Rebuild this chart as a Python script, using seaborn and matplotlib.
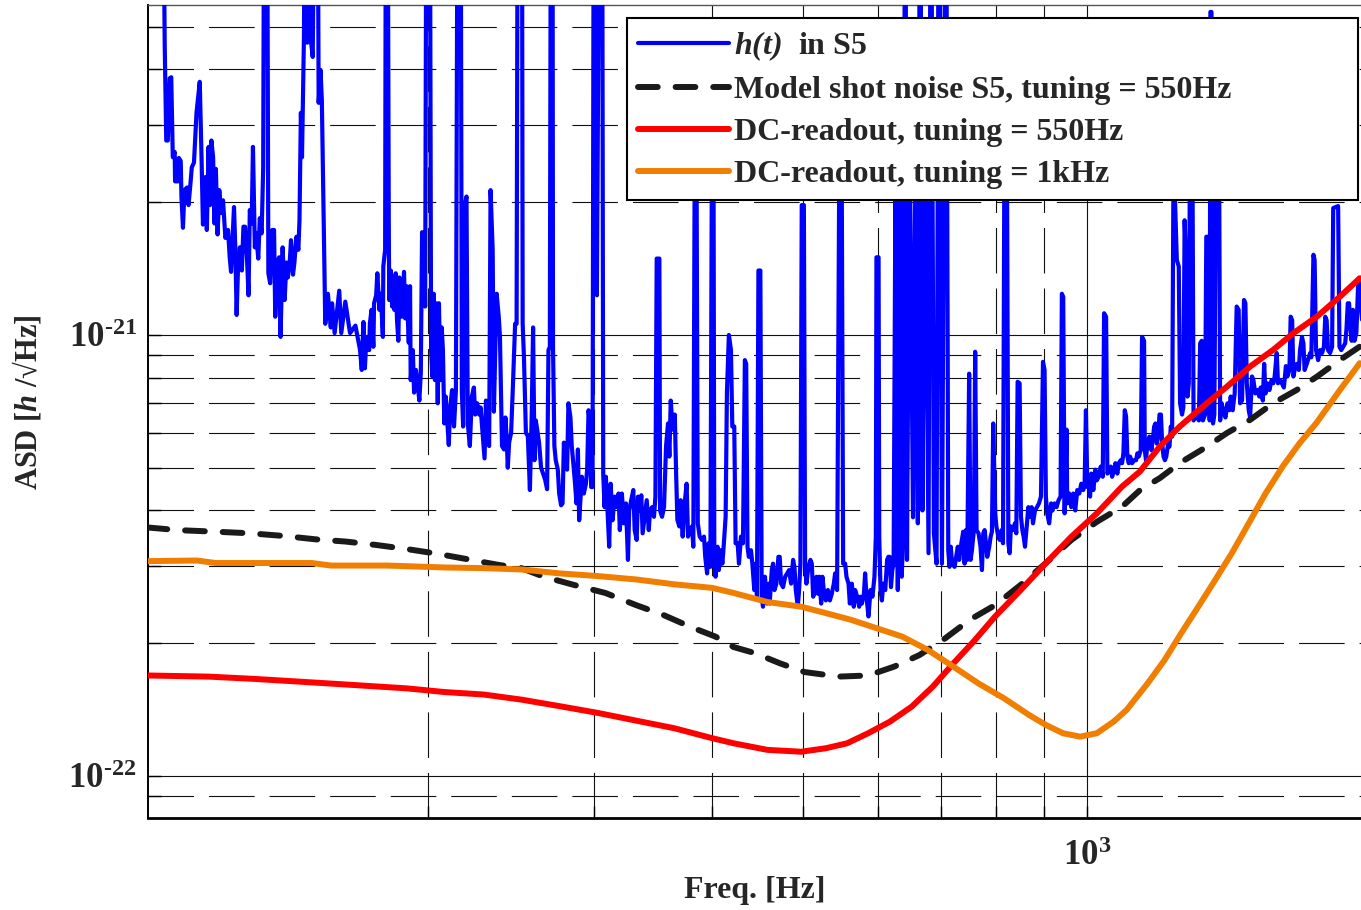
import matplotlib
matplotlib.use("Agg")
import matplotlib.pyplot as plt
from matplotlib.ticker import FixedLocator, FixedFormatter, NullFormatter
import numpy as np
import pandas as pd
import seaborn as sns

# All ASD values are given in units of 1e-22 / sqrt(Hz)
UNIT = 1e-22

# ---- h(t) in S5 (measured strain amplitude spectral density) ----
ht_freq = [
    104.6, 105.2, 105.6, 106.0, 106.5, 106.9, 107.3, 107.8, 107.9, 108.7, 108.9, 109.4, 109.6, 110.0,
    110.4, 111.1, 111.5, 112.0, 112.4, 113.0, 113.7, 114.6, 115.1, 115.5, 116.2, 116.6, 117.1, 117.5,
    117.9, 118.4, 118.8, 119.2, 119.7, 120.2, 120.7, 121.3, 122.0, 122.8, 123.3, 123.7, 124.6, 125.0,
    125.4, 125.8, 126.4, 127.0, 127.5, 128.0, 128.6, 129.1, 129.5, 130.1, 130.5, 131.1, 131.5, 132.2,
    132.7, 133.3, 133.8, 134.2, 135.0, 135.5, 136.1, 136.8, 137.4, 137.8, 138.5, 139.1, 139.6, 140.3,
    141.0, 141.6, 142.1, 142.8, 143.2, 143.9, 144.4, 145.1, 145.8, 146.2, 146.7, 147.1, 147.8, 148.3,
    149.0, 149.6, 150.3, 151.0, 152.0, 152.7, 153.2, 153.9, 154.4, 155.1, 155.7, 156.7, 157.8, 158.3,
    159.3, 161.1, 161.9, 163.5, 165.4, 167.6,
    169.5, 170.2, 170.9, 171.5, 172.2, 173.3, 173.6, 174.3, 175.1, 175.4, 176.3, 176.8, 177.7, 178.3,
    179.2, 179.4, 180.2, 180.6, 181.2, 181.8, 182.0, 182.7, 183.3, 183.8, 184.3, 184.9, 185.5, 186.1,
    186.6, 187.7, 188.7, 189.3, 189.9, 190.9, 191.5, 191.8, 192.8, 193.4, 194.3, 195.0, 195.9, 196.6,
    197.2, 198.1, 198.7, 199.4, 200.9, 201.6, 202.2, 202.9, 203.5, 204.2, 204.9, 205.5, 206.2, 206.9,
    207.5, 208.2, 208.9, 209.6, 210.5, 211.2, 212.2, 213.2, 214.2, 215.2, 216.6, 217.3, 218.0, 218.7,
    219.8, 220.5, 221.6, 222.7, 223.8, 224.5, 225.6, 226.7, 227.5, 228.6, 229.7, 230.5, 231.6, 232.3,
    233.1, 234.3, 235.0, 235.8, 236.6, 237.8, 238.5, 239.7, 240.9, 241.7, 242.5, 243.1, 243.9, 245.1,
    246.3, 247.5, 248.4, 249.2, 251.6, 252.1, 252.9, 254.1, 255.3, 256.6, 257.8, 258.6, 259.5, 260.3,
    261.2, 262.4, 263.7, 265.0, 266.3, 267.6, 268.5, 269.4, 270.2, 271.1, 271.5, 272.4, 273.3, 274.7,
    275.6, 276.9, 277.9, 278.8, 280.1, 281.0, 281.9, 283.3, 284.2, 285.1, 286.5, 287.5, 288.5, 289.4,
    291.3, 292.7, 294.2, 295.1, 296.1, 297.1, 298.0, 299.0, 300.0, 302.2, 304.4, 306.0, 306.9, 307.9,
    308.9, 309.9, 311.4, 312.5, 314.0, 315.5, 317.0, 318.6, 319.6, 321.2, 322.8, 324.4, 326.0, 327.0,
    328.6, 330.3, 331.4, 333.0, 334.1, 335.7, 336.8, 337.9, 339.6, 341.3, 343.0, 344.1, 345.8, 347.4,
    348.6, 349.7, 352.0, 352.6, 354.3, 356.0, 357.8, 359.5, 360.7, 361.9, 363.7, 365.5, 366.6, 367.8,
    369.6, 370.8, 372.6, 374.4, 376.2, 377.5, 379.3, 381.2, 382.4, 383.6, 385.5, 386.6, 388.4, 390.5,
    392.5, 393.7, 395.5, 396.9, 398.7, 400.0, 401.8, 402.5, 403.7, 405.7, 407.0, 409.0, 410.5, 411.8,
    413.8, 415.1, 417.1, 419.2, 420.6, 422.6, 424.0, 426.1, 427.5, 429.6, 431.7, 433.7, 435.1, 436.5,
    437.9, 440.2, 441.7, 443.8, 445.3, 446.7, 448.3, 450.4, 451.9, 453.3, 455.5, 457.7, 460.0,
    460.8, 463.1, 464.6, 466.2, 468.4, 470.7, 472.2, 473.8, 476.1, 478.5, 480.9, 483.1, 485.5, 487.9,
    489.5, 491.1, 493.5, 495.1, 496.7, 498.3, 500.9, 502.4, 504.0, 506.5, 509.0, 510.7, 512.4, 515.0,
    516.6, 518.3, 520.0, 522.5, 524.1, 526.7, 528.5, 531.1, 533.7, 536.2, 538.9, 540.6, 543.2, 545.9,
    549.5, 551.3, 554.0, 555.8, 558.6, 560.4, 563.1, 565.8, 567.7, 570.5, 573.3, 575.2, 577.1, 580.0,
    581.7, 583.6, 586.5, 589.4, 592.2, 595.1, 597.1, 598.0, 601.1, 602.1, 604.0, 606.0, 608.0, 611.0,
    613.8, 615.6, 617.6, 619.6, 621.6, 623.6,
    626.6, 630.0, 632.9, 636.0, 638.0, 641.7, 644.3, 648.5, 653.8, 657.7, 661.6, 665.3, 669.1, 673.4,
    679.1, 683.0, 688.0, 692.5, 696.6, 701.7, 708.6, 712.6, 714.7, 717.0, 719.4, 723.7, 729.4,
    731.9, 735.7, 739.1, 741.6, 744.0, 746.4, 749.9, 752.5, 755.0, 758.6, 761.0, 763.6, 767.3, 771.0,
    773.7, 776.2, 778.8, 781.3, 783.8, 787.6, 790.3, 792.8, 795.3, 799.2, 801.4, 805.3, 807.9, 811.8,
    814.5, 817.2, 822.4, 825.2, 827.8, 830.4, 834.5, 838.6, 841.4, 844.1, 848.2, 851.0, 853.9, 856.6,
    859.4, 862.3, 866.5, 869.3, 873.5, 876.4, 880.6, 884.9, 889.2, 893.6, 898.0, 901.5, 904.4, 907.3,
    911.7, 916.1, 919.2, 923.8, 928.3, 932.8, 937.4, 940.4, 943.5, 946.7, 951.3, 952.7, 957.4, 962.2,
    966.9, 971.6, 976.4, 981.2, 986.0, 990.8, 994.1, 997.3, 1000.7, 1004.2, 1007.4, 1010.6, 1015.5,
    1020.5, 1024.0, 1029.0, 1034.1, 1039.1, 1042.5, 1047.6, 1050.9, 1056.0, 1059.6, 1063.1, 1068.3,
    1071.7, 1076.8, 1080.5, 1085.8, 1089.3, 1092.8, 1096.5, 1100.0, 1103.4, 1107.2, 1110.8, 1116.2,
    1121.6, 1127.1, 1130.7, 1134.6, 1140.1, 1143.8, 1149.4,
    1151.4, 1154.8, 1158.7, 1164.4, 1170.1, 1174.1, 1178.0, 1181.8, 1185.9, 1189.7, 1193.5, 1197.6,
    1201.4, 1205.3, 1209.4, 1213.4, 1218.8, 1222.8, 1227.0, 1230.8, 1234.6, 1239.0, 1245.0, 1251.0,
    1255.0, 1261.0, 1265.0, 1269.0, 1274.0, 1278.0, 1282.0, 1286.0, 1293.0, 1297.0, 1301.6, 1308.0,
    1314.0, 1318.0, 1323.0, 1327.0, 1334.0, 1338.0, 1345.0, 1349.0, 1351.4, 1355.0, 1360.0, 1364.5,
    1371.0, 1380.0, 1384.0, 1389.0, 1395.0, 1402.0, 1409.0, 1415.0, 1420.0, 1427.0, 1434.0, 1441.0,
    1448.0, 1453.0, 1460.0, 1467.0, 1472.0, 1477.0, 1484.0, 1489.0, 1496.0, 1501.0, 1508.0, 1516.0,
    1523.0, 1528.0, 1536.0, 1541.0, 1546.0, 1553.0, 1561.0, 1569.0, 1576.0, 1581.0, 1589.0, 1594.0,
    1602.0, 1609.0, 1617.0, 1625.0, 1631.0, 1639.0, 1644.0, 1650.0, 1655.0, 1663.0, 1669.0, 1677.0,
    1682.0, 1690.0, 1696.0, 1701.0, 1710.0, 1715.0, 1724.0, 1729.0, 1738.0, 1743.0, 1749.0, 1758.0,
    1766.0, 1775.0, 1783.0, 1789.0, 1795.0, 1801.0, 1810.0, 1819.0, 1824.0, 1846.0, 1852.0, 1860.0,
    1869.0, 1878.0, 1884.0, 1890.0, 1896.0, 1903.0, 1908.0, 1914.0, 1921.0, 1930.0, 1939.0, 1945.0,
    1957.0,
]
ht_asd = [
    200, 46, 27.6, 27.6, 38.2, 38.4, 25.3, 26.0, 22.3, 22.3, 25.2, 24.8, 20.5, 17.5,
    21.3, 21.6, 19.7, 21.9, 24.0, 24.6, 31.9, 37.5, 25.3, 17.8, 22.8, 17.3, 26.7, 19.7,
    27.6, 25.3, 17.9, 23.8, 16.9, 21.3, 18.9, 20.2, 16.6, 17.3, 15.0, 13.9, 19.5, 15.7,
    11.1, 14.0, 15.8, 14.0, 17.6, 17.6, 15.0, 12.3, 19.2, 17.9, 26.7, 15.8, 17.0, 14.9,
    18.4, 17.0, 24.0, 200, 200, 13.8, 13.1, 17.3, 17.3, 11.0, 14.6, 15.0, 9.9, 15.8,
    12.0, 14.6, 13.5, 14.8, 16.4, 13.7, 14.6, 16.7, 15.6, 18.2, 31.9, 25.3, 47.4, 200,
    46, 200, 46.7, 42.7, 200, 200, 33.6, 39.9, 34.1, 18.5, 10.6, 12.4, 10.4, 11.8,
    10.1, 12.6, 10.1, 11.9, 10.1, 10.5,
    9.24, 8.33, 10.7, 8.4, 9.9, 9.24, 10.6, 11.4, 9.4, 11.8, 12.3, 13.8, 11.4, 12.4,
    9.9, 14.3, 15.6, 200, 200, 18.6, 12.0, 14.0, 11.6, 13.5, 11.4, 13.8, 10.8, 9.7,
    13.5, 11.0, 13.9, 10.9, 12.9, 9.6, 12.9, 7.9, 9.24, 7.4, 8.33, 7.8, 7.1, 8.2,
    17.1, 17.0, 11.6, 200, 200, 9.24, 8.05, 12.4, 7.9, 11.8, 7.0, 11.8, 7.9, 10.4,
    9.24, 6.3, 7.25, 6.5, 5.63, 6.85, 7.5, 6.2, 7.5, 200, 200, 7.5, 6.2, 19.5,
    20.6, 6.3, 5.6, 7.25, 7.6, 6.6, 7.0, 6.6, 6.85, 6.0, 5.25, 7.1, 5.7, 5.6,
    21.3, 15.6, 6.7, 9.24, 12.4, 11.0, 9.9, 5.6, 5.5, 6.5, 5.8, 5.0, 5.7, 6.0,
    7.9, 10.6, 10.6, 200, 200, 10.6, 8.9, 6.0, 5.9, 4.45, 6.75, 10.4, 5.2, 6.4,
    6.1, 5.7, 5.0, 4.85, 4.7, 4.47, 9.24, 9.4, 200, 200, 9.4, 5.6, 5.2, 4.95,
    4.37, 4.11, 4.15, 5.7, 5.1, 4.95, 7.0, 6.5, 5.6, 5.2, 4.6, 4.15, 5.5, 3.8,
    4.77, 4.37, 4.6, 4.95, 6.75, 6.3, 4.52, 4.52, 200, 12.3, 200, 200, 4.85, 4.07,
    4.77, 4.15, 3.31, 4.6, 3.8, 4.3, 4.07, 4.37, 3.61, 4.37, 3.74, 4.15, 3.09, 4.0,
    4.22, 4.45, 3.61, 3.43, 4.3, 4.0, 4.33, 3.55, 3.87, 4.22, 3.61, 4.0, 4.07, 3.87,
    4.3, 14.9, 14.9, 4.0, 3.87, 4.07, 5.6, 6.3, 5.3, 7.1, 6.1, 6.6, 4.95, 3.81,
    3.68, 4.22, 3.49, 4.15, 4.6, 3.49, 3.61, 3.68, 3.31, 21.3, 21.3, 3.74, 3.49, 3.43,
    3.49, 3.14, 2.88, 3.37, 2.98, 20.8, 20.8, 3.25, 2.83, 3.31, 2.93, 3.25, 3.03, 3.31,
    3.87, 7.4, 10.0, 9.24, 6.2, 6.2, 3.37, 3.37, 3.03, 3.49, 3.37, 8.77, 8.6, 3.31,
    3.14, 3.25, 3.03, 2.64, 3.03, 2.55, 14.0, 14.0, 2.55, 2.42, 2.83, 2.46, 2.73,
    2.46, 2.93, 3.03, 2.64, 2.73, 3.14, 3.14, 2.73, 2.68, 2.83, 2.88, 2.93, 2.73, 3.09,
    2.98, 2.64, 2.42, 2.64, 3.03, 19.7, 19.7, 3.03, 2.73, 2.98, 3.09, 3.03, 2.55, 2.64,
    2.83, 2.59, 2.83, 2.46, 2.83, 2.55, 2.5, 2.64, 2.5, 2.59, 2.73, 2.88, 2.64, 20.8,
    20.8, 3.03, 3.03, 2.83, 2.73, 2.46, 2.73, 2.42, 2.64, 2.55, 2.42, 2.55, 2.46, 2.59,
    2.88, 2.55, 2.3, 2.64, 2.55, 2.83, 3.49, 15.0, 15.0, 3.49, 2.64, 2.5, 2.73, 2.64,
    3.09, 3.14, 3.14, 2.68, 2.93, 3.03,
    25, 2.64, 25, 2.83, 3.37, 200, 3.09, 30, 3.86, 25, 3.74, 200, 4.0, 30,
    3.2, 200, 3.55, 3.03, 200, 3.03, 200, 3.25, 2.98, 3.31, 3.03, 2.98, 3.31,
    3.09, 3.37, 3.58, 3.03, 3.61, 3.09, 8.17, 3.09, 3.25, 3.61, 9.16, 3.61, 3.55, 3.31,
    2.93, 3.55, 3.61, 3.37, 3.14, 3.31, 3.49, 3.58, 6.3, 3.94, 3.68, 3.49, 3.43, 3.61,
    3.37, 25, 25, 3.37, 3.2, 3.68, 3.61, 3.74, 3.55, 7.83, 7.77, 3.87, 3.61, 3.49,
    3.31, 3.61, 4.07, 3.87, 4.07, 3.74, 4.0, 4.07, 4.15, 4.3, 8.69, 8.33, 4.3, 3.94,
    3.74, 4.15, 4.0, 4.15, 4.07, 4.22, 4.3, 12.4, 12.2, 3.94, 6.1, 4.15, 4.37, 4.07,
    4.37, 4.0, 4.45, 4.37, 4.6, 4.45, 4.6, 6.75, 4.52, 4.68, 4.3, 4.85, 4.45,
    4.95, 4.68, 4.77, 5.03, 4.77, 11.2, 11.0, 4.85, 4.95, 5.03, 4.77, 4.95,
    5.12, 4.85, 5.12, 5.2, 5.12, 5.39, 6.75, 6.54, 5.3, 5.12, 5.3, 5.12,
    5.2, 5.2, 5.39, 5.3, 5.48, 9.9, 9.7,
    5.48, 5.2, 5.67, 5.88, 5.48, 5.78, 6.2, 6.3, 5.67, 5.88, 6.6, 6.6,
    5.67, 5.3, 5.2, 5.3, 5.67, 5.58, 6.2, 5.88, 21, 21, 14.8, 14.3,
    7.0, 6.6, 6.85, 18.2, 14.3, 7.25, 7.77, 30, 30, 6.4, 6.6, 6.5,
    6.4, 9.57, 9.7, 6.4, 6.6, 16.7, 16.7, 6.4, 54, 54, 6.3, 6.6,
    30, 30, 6.4, 7.0, 6.75, 6.5, 7.0, 6.75, 7.25, 6.75, 7.37, 11.6,
    11.4, 7.0, 7.1, 12.0, 11.8, 7.77, 6.75, 6.5, 8.05, 7.9, 7.37, 7.5,
    7.25, 7.6, 7.1, 8.6, 7.37, 7.77, 7.5, 7.9, 7.77, 8.05, 9.1, 7.77,
    7.9, 7.77, 7.6, 8.5, 8.05, 8.33, 11.0, 10.8, 8.05, 8.5, 8.6, 8.33,
    9.24, 9.9, 9.57, 8.33, 8.6, 8.77, 9.1, 8.9, 15.2, 14.8, 9.24, 8.77,
    9.24, 9.1, 9.4, 11.0, 10.8, 9.24, 9.1, 9.4, 19.4, 19.6, 9.4, 9.24,
    9.4, 9.57, 10.3, 11.8, 11.8, 10.3, 9.7, 11.4, 9.7, 10.1, 13.3, 12.6,
    10.8,
]

# ---- Model shot noise S5, tuning = 550 Hz ----
model_freq = [100.9, 108.6, 119.2, 129.7, 141.0, 152.1, 163.8, 176.4, 190.0, 204.8, 220.5, 237.7,
              251.3, 265.5, 286.0, 308.5, 332.6, 355.1, 379.4, 403.7, 422.1, 444.2, 472.7, 502.1,
              545.5, 586.0, 624.5, 664.2, 706.9, 751.0, 799.0, 850.1, 904.5, 962.6, 1024.2, 1089.3,
              1138.2, 1195.1, 1255.0, 1339.5, 1406.6, 1489.0, 1575.0, 1667.9, 1752.3, 1854.8, 1946.0]
model_asd = [3.66, 3.61, 3.58, 3.55, 3.50, 3.44, 3.40, 3.34, 3.27, 3.19, 3.10, 3.01,
             2.96, 2.83, 2.71, 2.60, 2.44, 2.32, 2.18, 2.07, 1.96, 1.90, 1.80, 1.72,
             1.68, 1.69, 1.77, 1.88, 2.05, 2.26, 2.44, 2.71, 3.04, 3.43, 3.77, 4.08,
             4.45, 4.74, 5.13, 5.58, 5.99, 6.42, 7.00, 7.50, 8.04, 8.78, 9.41]

# ---- DC-readout, tuning = 550 Hz ----
dc550_freq = [100.9, 117.1, 131.0, 143.8, 157.9, 173.1, 190.0, 208.3, 229.2, 251.3, 275.8, 302.8,
              332.6, 365.1, 400.5, 422.0, 458.3, 497.7, 528.7, 556.6, 586.0, 618.0, 651.7, 686.2,
              721.5, 760.0, 799.0, 850.5, 904.5, 962.7, 1024.2, 1089.0, 1137.6, 1194.0, 1254.0,
              1339.5, 1406.6, 1489.0, 1575.0, 1654.6, 1752.3, 1854.0, 1946.0]
dc550_asd = [1.69, 1.68, 1.66, 1.64, 1.62, 1.60, 1.58, 1.55, 1.53, 1.49, 1.44, 1.39,
             1.335, 1.283, 1.218, 1.186, 1.146, 1.135, 1.156, 1.186, 1.25, 1.328, 1.436, 1.594,
             1.80, 2.03, 2.30, 2.64, 3.04, 3.49, 3.94, 4.53, 4.90, 5.58, 6.20,
             7.00, 7.63, 8.48, 9.25, 10.09, 11.0, 12.21, 13.45]

# ---- DC-readout, tuning = 1 kHz ----
dc1k_freq = [100.9, 113.8, 119.2, 150.7, 157.9, 181.3, 208.5, 229.2, 251.3, 275.8, 302.8, 332.6,
             365.1, 400.5, 422.0, 458.3, 497.7, 528.7, 562.0, 599.4, 637.0, 678.2, 721.5, 767.6,
             816.6, 868.0, 904.5, 943.0, 983.1, 1024.2, 1067.0, 1100.8, 1159.0, 1208.0, 1259.0,
             1312.0, 1367.0, 1424.0, 1484.0, 1547.0, 1612.0, 1680.0, 1750.0, 1854.0, 1946.0]
dc1k_asd = [3.07, 3.08, 3.04, 3.04, 3.00, 3.00, 2.97, 2.96, 2.94, 2.88, 2.84, 2.79,
            2.72, 2.67, 2.60, 2.48, 2.42, 2.34, 2.26, 2.16, 2.07, 1.93, 1.77, 1.62,
            1.50, 1.375, 1.305, 1.25, 1.228, 1.25, 1.328, 1.41, 1.62, 1.83, 2.11,
            2.42, 2.78, 3.20, 3.74, 4.38, 5.03, 5.68, 6.31, 7.50, 8.63]

series_labels = [
    r"$\mathbfit{h(t)}$  in S5",
    "Model shot noise S5, tuning = 550Hz",
    "DC-readout, tuning = 550Hz",
    "DC-readout, tuning = 1kHz",
]
series_colors = ["#0000FF", "#1A1A1A", "#FF0000", "#F07E00"]

x_major = [1000]
x_minor = [200, 300, 400, 500, 600, 700, 800, 900]
x_ticklabels = [r"$\mathbf{10}^{\text{3}}$"]
y_major = [1e-22, 1e-21]
y_minor = [8e-23, 9e-23, 2e-22, 3e-22, 4e-22, 5e-22, 6e-22, 7e-22, 8e-22, 9e-22,
           2e-21, 3e-21, 4e-21, 5e-21]
y_ticklabels = [r"$\mathbf{10}^{\text{-22}}$", r"$\mathbf{10}^{\text{-21}}$"]

# ---- style ----
sns.set_theme(style="white")
plt.rcParams["font.family"] = ["Liberation Serif", "DejaVu Serif"]
plt.rcParams["font.weight"] = "bold"
plt.rcParams["mathtext.fontset"] = "custom"
plt.rcParams["mathtext.rm"] = "Liberation Serif:bold"
plt.rcParams["mathtext.bf"] = "Liberation Serif:bold"
plt.rcParams["mathtext.it"] = "Liberation Serif:italic:bold"
plt.rcParams["mathtext.bfit"] = "Liberation Serif:italic:bold"

W, H = 1361, 910
fig = plt.figure(figsize=(W / 100, H / 100), dpi=100)
ax = fig.add_axes([148 / W, 92 / H, (W - 148) / W, 813 / H])
ax.set_xscale("log")
ax.set_yscale("log")


def frame(freq, asd):
    return pd.DataFrame({"freq": np.asarray(freq, float), "asd": np.asarray(asd, float) * UNIT})


sns.lineplot(data=frame(ht_freq, ht_asd), x="freq", y="asd", ax=ax, color=series_colors[0],
             lw=3.0, estimator=None, sort=False, label=series_labels[0], zorder=3)
sns.lineplot(data=frame(model_freq, model_asd), x="freq", y="asd", ax=ax, color=series_colors[1],
             lw=4.3, linestyle=(0, (3.3, 3.0)), dash_capstyle="round", estimator=None, sort=False,
             label=series_labels[1], zorder=4)
sns.lineplot(data=frame(dc550_freq, dc550_asd), x="freq", y="asd", ax=ax, color=series_colors[2],
             lw=4.3, estimator=None, sort=False, label=series_labels[2], zorder=5)
sns.lineplot(data=frame(dc1k_freq, dc1k_asd), x="freq", y="asd", ax=ax, color=series_colors[3],
             lw=4.3, estimator=None, sort=False, label=series_labels[3], zorder=6)

ax.set_xlim(101.0, 1952)
ax.set_ylim(8.03e-23, 5.6e-21)

# ---- ticks & grid ----
ax.xaxis.set_major_locator(FixedLocator(x_major))
ax.xaxis.set_minor_locator(FixedLocator(x_minor))
ax.xaxis.set_major_formatter(FixedFormatter(x_ticklabels))
ax.xaxis.set_minor_formatter(NullFormatter())
ax.yaxis.set_major_locator(FixedLocator(y_major))
ax.yaxis.set_minor_locator(FixedLocator(y_minor))
ax.yaxis.set_major_formatter(FixedFormatter(y_ticklabels))
ax.yaxis.set_minor_formatter(NullFormatter())

ax.grid(True, which="major", color="#111111", lw=0.8, ls="-")
ax.grid(True, which="minor", color="#111111", lw=0.8, ls=(0, (41, 13.5)))
ax.tick_params(axis="both", which="both", direction="in", length=9, width=1.0, color="black",
               top=False, right=False, left=True, bottom=True)
ax.tick_params(axis="x", which="major", labelsize=25, pad=16)
ax.tick_params(axis="y", which="major", labelsize=25, pad=8)

for side in ("left", "bottom"):
    ax.spines[side].set_color("black")
ax.spines["left"].set_linewidth(1.4)
ax.spines["bottom"].set_linewidth(2.0)
ax.spines["top"].set_color("#555555")
ax.spines["top"].set_linewidth(1.0)
ax.spines["right"].set_visible(False)

ax.set_xlabel("Freq. [Hz]", fontsize=23, fontweight="bold")
ax.xaxis.set_label_coords(0.5, -0.071)
ax.xaxis.label.set_va("top")
ax.set_ylabel(r"ASD [$\mathbfit{h}$ /√Hz]", fontsize=22, fontweight="bold")
ax.yaxis.set_label_coords(-0.086, 0.512)

# ---- legend ----
handles, labels = ax.get_legend_handles_labels()
leg = ax.legend(handles, labels, loc="upper left",
                bbox_to_anchor=(627 / W, 1 - 18 / H, (1358 - 627) / W, 0),
                bbox_transform=fig.transFigure, mode="expand", borderaxespad=0,
                frameon=True, fancybox=False, framealpha=1, edgecolor="black",
                handlelength=2.85, handletextpad=0.15, labelspacing=0.4,
                borderpad=0.35, prop={"weight": "bold", "size": 23})
leg.get_frame().set_linewidth(1.5)
leg.set_zorder(20)

fig.savefig("out.png", dpi=100)
